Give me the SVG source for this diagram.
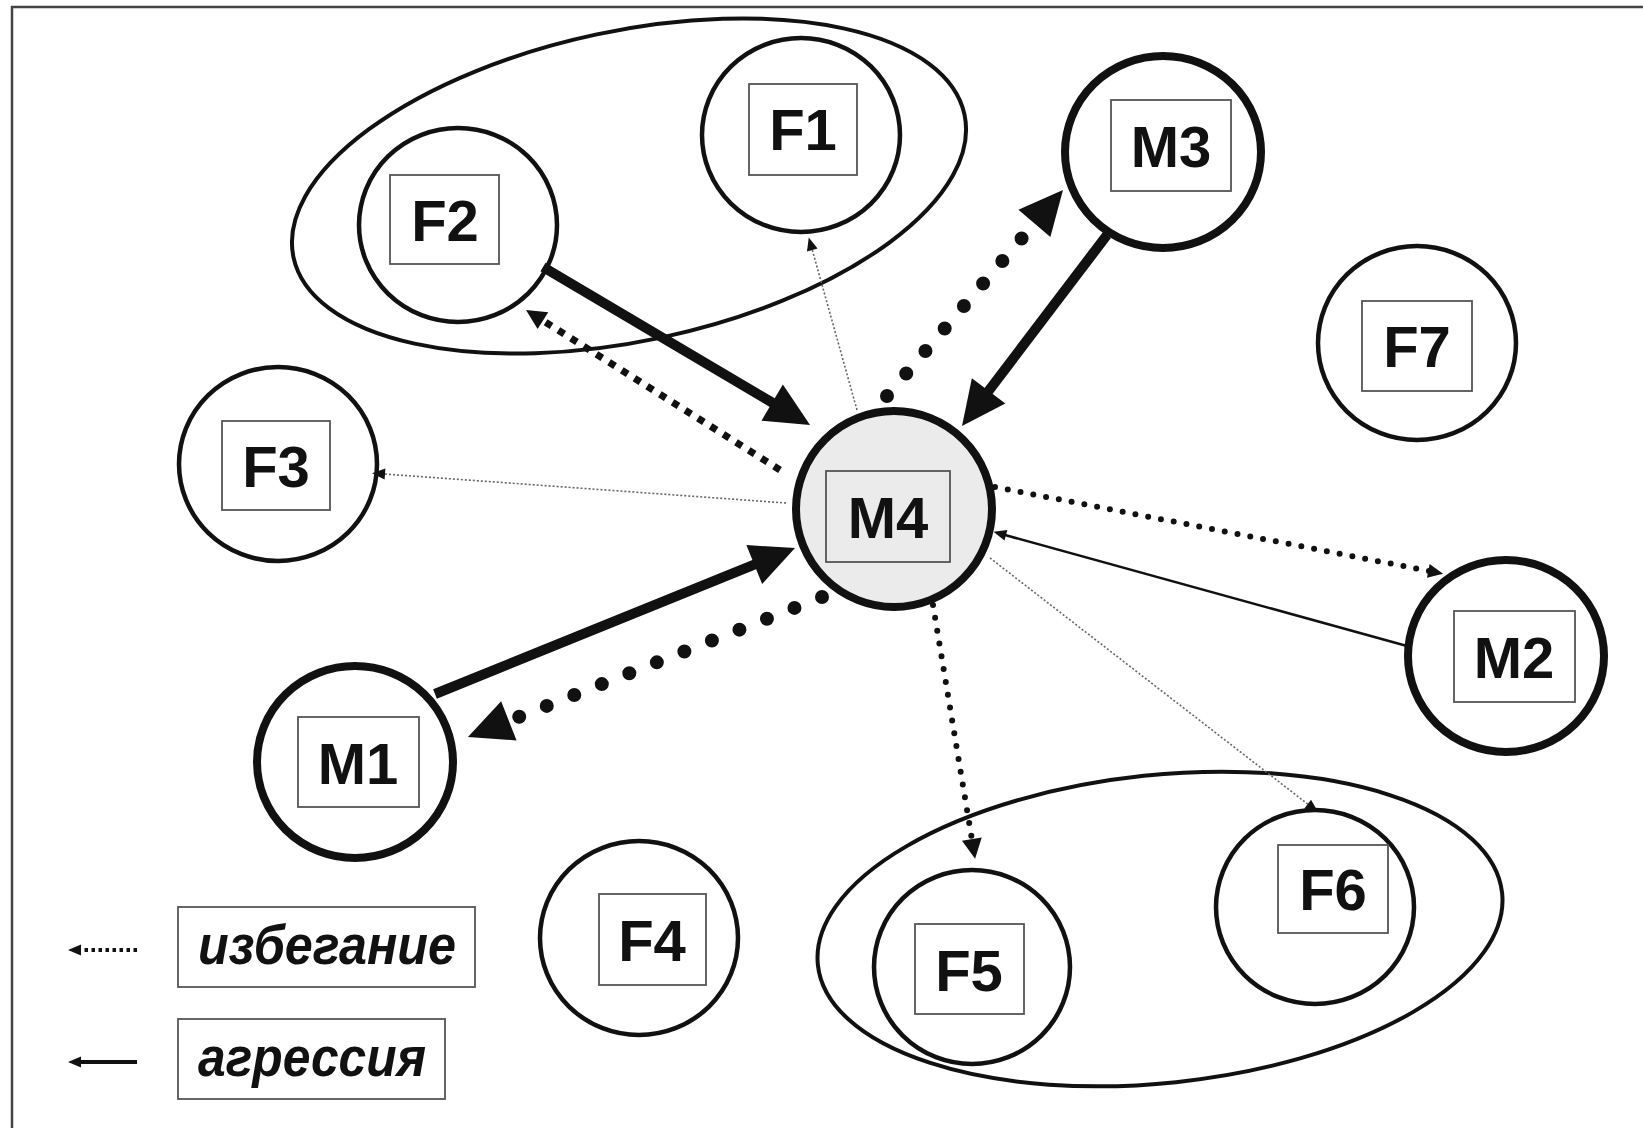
<svg xmlns="http://www.w3.org/2000/svg" width="1643" height="1128" viewBox="0 0 1643 1128">
<style>
.node{fill:none;stroke:#111;stroke-width:4.5}
.male{fill:none;stroke:#111;stroke-width:8}
.center{fill:#ebebeb;stroke:#111;stroke-width:8}
.lbl{fill:none;stroke:#555;stroke-width:1.8}
.t{font-family:"Liberation Sans",Arial,sans-serif;font-weight:bold;font-size:58px;fill:#111;text-anchor:middle}
.lt{font-family:"Liberation Sans",Arial,sans-serif;font-weight:bold;font-style:italic;font-size:55px;fill:#111}
.grp{fill:none;stroke:#111;stroke-width:4}
.thick{fill:none;stroke:#111;stroke-width:10}
.bigdot{fill:none;stroke:#111;stroke-width:14;stroke-linecap:round;stroke-dasharray:0 29.6}
.sq{fill:none;stroke:#111;stroke-width:7;stroke-dasharray:7 8}
.rdot{fill:none;stroke:#111;stroke-width:6;stroke-linecap:round;stroke-dasharray:0 13}
.fine{fill:none;stroke:#666;stroke-width:1.6;stroke-dasharray:2 2}
.thin{fill:none;stroke:#111;stroke-width:2.5}
</style>
<defs>
<marker id="big" markerUnits="userSpaceOnUse" markerWidth="46" markerHeight="44" refX="2" refY="21" orient="auto" overflow="visible"><path d="M0,0 L44,21 L0,42 z" fill="#111"/></marker>
<marker id="med" markerUnits="userSpaceOnUse" markerWidth="22" markerHeight="22" refX="1" refY="10" orient="auto" overflow="visible"><path d="M0,0 L20,10 L0,20 z" fill="#111"/></marker>
<marker id="small" markerUnits="userSpaceOnUse" markerWidth="16" markerHeight="14" refX="1" refY="7" orient="auto" overflow="visible"><path d="M0,0 L15,7 L0,14 z" fill="#111"/></marker>
<marker id="tiny" markerUnits="userSpaceOnUse" markerWidth="14" markerHeight="12" refX="1" refY="5.5" orient="auto" overflow="visible"><path d="M0,0 L13,5.5 L0,11 z" fill="#111"/></marker>
</defs>
<rect x="0" y="0" width="1643" height="1128" fill="#fff"/>
<g id="frame" stroke="#444" stroke-width="2.5" fill="none">
<line x1="11" y1="7" x2="1643" y2="7"/>
<line x1="12" y1="6" x2="12" y2="1128"/>
</g>
<g id="group-F1-F2"><ellipse class="grp" cx="629" cy="186" rx="343" ry="155" transform="rotate(-12 629 186)"/></g>
<g id="group-F5-F6"><ellipse class="grp" cx="1160" cy="929" rx="344" ry="154" transform="rotate(-6 1160 929)"/></g>
<g id="connectors">
<line class="thick" x1="543" y1="267" x2="773.9" y2="403.6" marker-end="url(#big)"/>
<line class="thick" x1="1107" y1="235" x2="987.4" y2="392.5" marker-end="url(#big)"/>
<line class="thick" x1="435" y1="694" x2="756.1" y2="563.8" marker-end="url(#big)"/>
<line class="bigdot" x1="887" y1="396" x2="1035.7" y2="221.9" marker-end="url(#big)"/>
<line class="bigdot" x1="822" y1="597" x2="507" y2="721.6" marker-end="url(#big)"/>
<line class="sq" x1="780" y1="470" x2="542.1" y2="320.1" marker-end="url(#med)"/>
<line class="rdot" x1="995" y1="487" x2="1429.3" y2="571.1" marker-end="url(#small)"/>
<line class="rdot" x1="933" y1="605" x2="972" y2="840" marker-end="url(#med)"/>
<line class="fine" x1="857" y1="410" x2="812" y2="249" marker-end="url(#tiny)"/>
<line class="fine" x1="786" y1="503" x2="384" y2="474" marker-end="url(#tiny)"/>
<line class="fine" x1="990" y1="558" x2="1308.5" y2="804.7" marker-end="url(#tiny)"/>
<line class="thin" x1="1407" y1="646" x2="1005" y2="535" marker-end="url(#tiny)"/>
</g>
<g id="F1"><ellipse class="node" cx="801" cy="135" rx="99" ry="97"/><rect class="lbl" x="749" y="84" width="108" height="91"/><text class="t" x="803" y="150">F1</text></g>
<g id="F2"><ellipse class="node" cx="458" cy="225" rx="99" ry="97"/><rect class="lbl" x="390" y="175" width="109" height="89"/><text class="t" x="445" y="241">F2</text></g>
<g id="M3"><ellipse class="male" cx="1163" cy="152" rx="98" ry="96"/><rect class="lbl" x="1111" y="100" width="120" height="91"/><text class="t" x="1171" y="167">M3</text></g>
<g id="F7"><ellipse class="node" cx="1417" cy="343" rx="99" ry="97"/><rect class="lbl" x="1362" y="301" width="110" height="90"/><text class="t" x="1417" y="367">F7</text></g>
<g id="F3"><ellipse class="node" cx="278" cy="464" rx="99" ry="97"/><rect class="lbl" x="222" y="421" width="108" height="89"/><text class="t" x="276" y="487">F3</text></g>
<g id="M4"><ellipse class="center" cx="894" cy="509" rx="98" ry="98"/><rect class="lbl" x="826" y="471" width="124" height="91"/><text class="t" x="888" y="538">M4</text></g>
<g id="M2"><ellipse class="male" cx="1506" cy="656" rx="98" ry="96"/><rect class="lbl" x="1454" y="611" width="121" height="91"/><text class="t" x="1514" y="678">M2</text></g>
<g id="M1"><ellipse class="male" cx="355" cy="762" rx="98" ry="96"/><rect class="lbl" x="298" y="717" width="121" height="90"/><text class="t" x="358" y="784">M1</text></g>
<g id="F4"><ellipse class="node" cx="639" cy="938" rx="99" ry="97"/><rect class="lbl" x="599" y="894" width="107" height="91"/><text class="t" x="652" y="961">F4</text></g>
<g id="F5"><ellipse class="node" cx="972" cy="967" rx="98" ry="97"/><rect class="lbl" x="915" y="924" width="109" height="90"/><text class="t" x="969" y="991">F5</text></g>
<g id="F6"><ellipse class="node" cx="1315" cy="907" rx="99" ry="97"/><rect class="lbl" x="1278" y="845" width="110" height="88"/><text class="t" x="1333" y="910">F6</text></g>
<g id="legend">
<line class="fine" x1="137" y1="950" x2="80" y2="950" style="stroke:#111;stroke-width:4;stroke-dasharray:3.5 3.5" marker-end="url(#tiny)"/>
<line class="thin" x1="137" y1="1062" x2="80" y2="1062" style="stroke-width:4" marker-end="url(#tiny)"/>
<rect class="lbl" x="178" y="907" width="297" height="80"/>
<text class="lt" x="198" y="964" textLength="258" lengthAdjust="spacingAndGlyphs">избегание</text>
<rect class="lbl" x="178" y="1019" width="267" height="80"/>
<text class="lt" x="198" y="1076" textLength="228" lengthAdjust="spacingAndGlyphs">агрессия</text>
</g>
</svg>
